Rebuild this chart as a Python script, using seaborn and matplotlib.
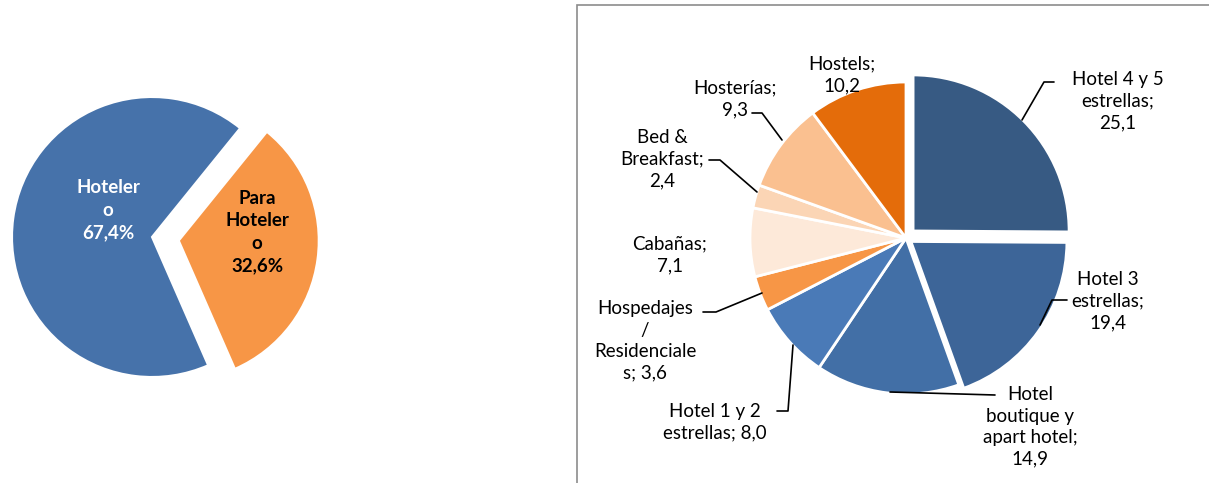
import matplotlib
matplotlib.use("Agg")
import matplotlib.pyplot as plt
import seaborn as sns
from matplotlib.patches import Rectangle

# ------------------------------
# Datos
# ------------------------------
tipo_labels = ["Hoteler\no\n67,4%", "Para\nHoteler\no\n32,6%"]
tipo_values = [67.4, 32.6]
tipo_colors = ["#4672AA", "#F79646"]

cat_names = ["Hotel 4 y 5\nestrellas;\n25,1", "Hotel 3\nestrellas;\n19,4",
             "Hotel\nboutique y\napart hotel;\n14,9", "Hotel 1 y 2\nestrellas; 8,0",
             "Hospedajes\n/\nResidenciale\ns; 3,6", "Cabañas;\n7,1",
             "Bed &\nBreakfast;\n2,4", "Hosterías;\n9,3", "Hostels;\n10,2"]
cat_values = [25.1, 19.4, 14.9, 8.0, 3.6, 7.1, 2.4, 9.3, 10.2]
cat_colors = ["#375A83", "#3D6598", "#426FA6", "#4A7AB7", "#F79646",
              "#FDE9D9", "#FBD5B5", "#FAC090", "#E46C0A"]

# ------------------------------
# Estilo
# ------------------------------
sns.set_style("white")
plt.rcParams["font.family"] = ["Lato", "DejaVu Sans"]

W, H = 1209, 483
fig = plt.figure(figsize=(W / 100, H / 100), dpi=100)
ax = fig.add_axes([0, 0, 1, 1])

# pie izquierdo (explode en unidades de datos = píxeles)
ax.pie(tipo_values, colors=tipo_colors, startangle=51,
       explode=[0, 27], center=(152, H - 237), radius=140,
       wedgeprops=dict(edgecolor="white", linewidth=1.5))
ax.text(108, H - 210, tipo_labels[0], ha="center", va="center", color="white",
        fontsize=13.5, fontweight="bold", linespacing=1.4)
ax.text(257, H - 232, tipo_labels[1], ha="center", va="center", color="black",
        fontsize=13.5, fontweight="bold", linespacing=1.4)

# pie derecho
ax.pie(cat_values, colors=cat_colors, startangle=90, counterclock=False,
       explode=[10, 6, 0, 0, 0, 0, 0, 0, 0], center=(906, H - 238), radius=156,
       wedgeprops=dict(edgecolor="white", linewidth=2))

# etiquetas y líneas guía
label_pos = [(1118, 101), (1108, 301), (1030, 427), (715, 422),
             (645, 341), (670, 255), (662, 159), (735, 99), (842, 75)]
leaders = [[(1022, 120), (1044, 82), (1054, 82)],
           [(1040, 325), (1052, 300), (1067, 300)],
           [(890, 392), (995, 395)],
           [(793, 345), (788, 411), (777, 411)],
           [(762, 293), (716, 312), (703, 312)],
           None,
           [(757, 192), (720, 160), (709, 160)],
           [(782, 140), (762, 113), (752, 113)],
           None]
for name, (x, y), ld in zip(cat_names, label_pos, leaders):
    ax.text(x, H - y, name, ha="center", va="center", fontsize=13.5,
            color="black", linespacing=1.32)
    if ld:
        ax.plot([p[0] for p in ld], [H - p[1] for p in ld], color="black", lw=1.2)

# marco del panel derecho
ax.add_patch(Rectangle((577, -5), W - 577 + 5, H - 5 + 5, fill=False,
                       edgecolor="#8C8C8C", lw=1.2))

ax.set_xlim(0, W)
ax.set_ylim(0, H)
ax.set_aspect("equal")
ax.axis("off")

plt.savefig("out.png", dpi=100)
plt.close()
